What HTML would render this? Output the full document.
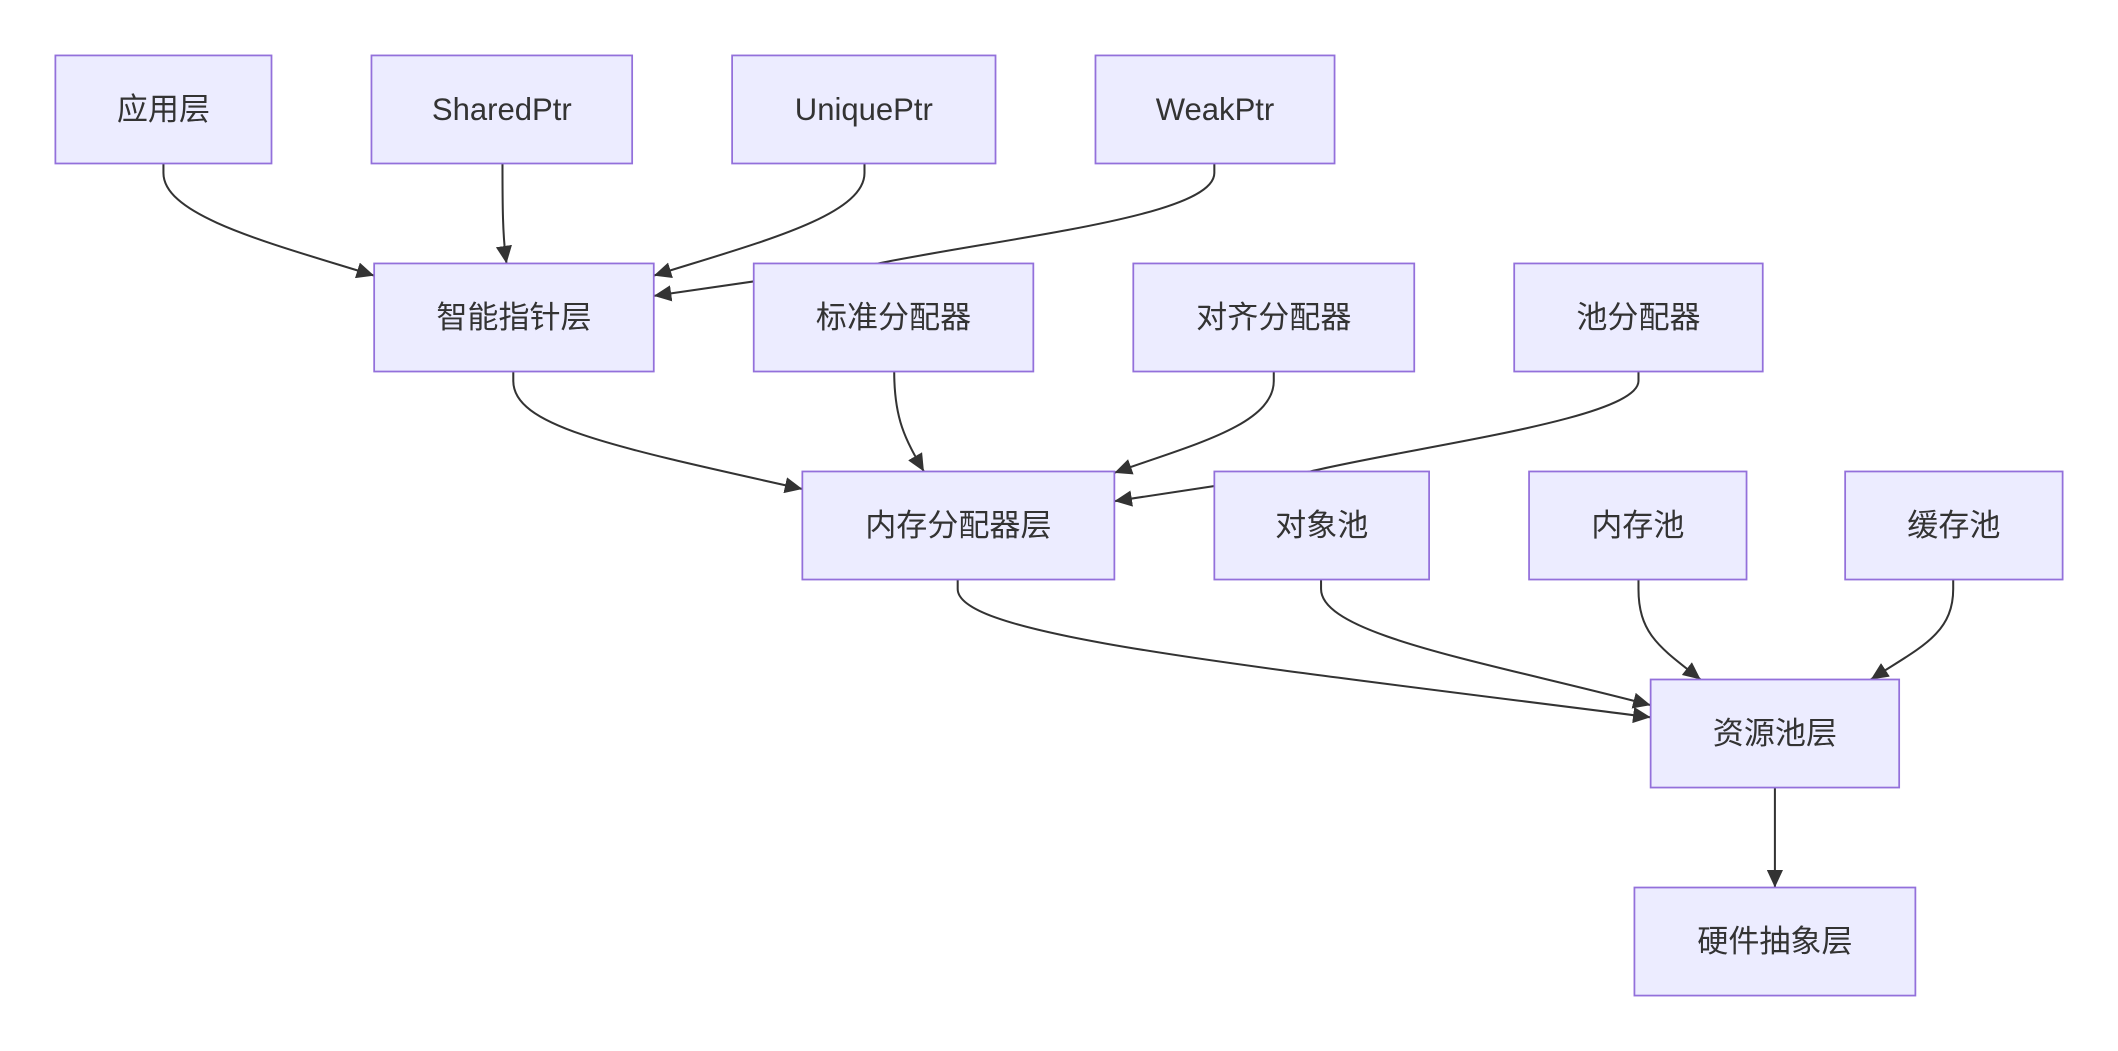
<!DOCTYPE html>
<html><head><meta charset="utf-8"><style>
html,body{margin:0;padding:0;background:#fff;width:2118px;height:1051px;overflow:hidden}
svg text{font-family:"Liberation Sans","Noto Sans CJK SC",sans-serif;font-size:23px;fill:#333;text-anchor:middle;dominant-baseline:central}
</style></head><body>
<svg width="2118" height="1051" viewBox="0 0 1568 778" xmlns="http://www.w3.org/2000/svg">
<defs><marker id="a" markerWidth="14" markerHeight="12" refX="13" refY="6" orient="auto" markerUnits="userSpaceOnUse"><path d="M0,0 L13,6 L0,12 z" fill="#333"/></marker></defs>
<g fill="none" stroke="#333" stroke-width="1.5" marker-end="url(#a)">
<path d="M121,121 L121,128 C121,160 200,180 277,204"/>
<path d="M372,121 C372,150 372,175 375,195"/>
<path d="M640,121 L640,128 C640,160 560,180 484,204"/>
<path d="M899,121 L899,128 C899,160 750,175 650,195 L484,219"/>
<path d="M380,275 L380,282 C380,315 450,330 594,362"/>
<path d="M662,275 C662,310 670,325 684,349"/>
<path d="M943,275 L943,282 C943,315 880,330 825,350"/>
<path d="M1213,275 L1213,282 C1213,310 1050,330 970,349 L825,371"/>
<path d="M709,429 L709,436 C709,470 900,490 1222,531"/>
<path d="M978,429 L978,436 C978,470 1100,490 1222,522"/>
<path d="M1213,429 L1213,436 C1213,470 1230,480 1259,503"/>
<path d="M1446,429 L1446,436 C1446,470 1420,480 1385,503"/>
<path d="M1314,583 L1314,657"/>
</g>
<g fill="#ECECFF" stroke="#9370DB" stroke-width="1.3">
<rect x="41" y="41" width="160" height="80"/>
<rect x="275" y="41" width="193" height="80"/>
<rect x="542" y="41" width="195" height="80"/>
<rect x="811" y="41" width="177" height="80"/>
<rect x="277" y="195" width="207" height="80"/>
<rect x="558" y="195" width="207" height="80"/>
<rect x="839" y="195" width="208" height="80"/>
<rect x="1121" y="195" width="184" height="80"/>
<rect x="594" y="349" width="231" height="80"/>
<rect x="899" y="349" width="159" height="80"/>
<rect x="1132" y="349" width="161" height="80"/>
<rect x="1366" y="349" width="161" height="80"/>
<rect x="1222" y="503" width="184" height="80"/>
<rect x="1210" y="657" width="208" height="80"/>
</g>
<text x="121" y="81">应用层</text>
<text x="371.5" y="81">SharedPtr</text>
<text x="639.5" y="81">UniquePtr</text>
<text x="899.5" y="81">WeakPtr</text>
<text x="380.5" y="235">智能指针层</text>
<text x="661.5" y="235">标准分配器</text>
<text x="943" y="235">对齐分配器</text>
<text x="1213" y="235">池分配器</text>
<text x="709.5" y="389">内存分配器层</text>
<text x="978.5" y="389">对象池</text>
<text x="1212.5" y="389">内存池</text>
<text x="1446.5" y="389">缓存池</text>
<text x="1314" y="543">资源池层</text>
<text x="1314" y="697">硬件抽象层</text>
</svg>
</body></html>
